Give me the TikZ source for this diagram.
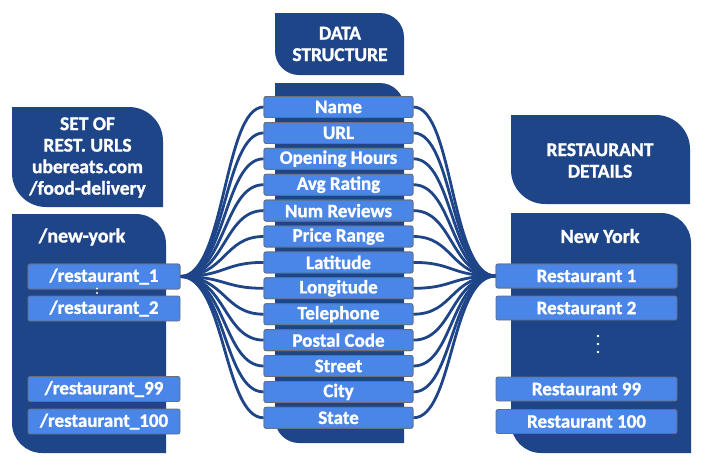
\documentclass[tikz,border=0pt]{standalone}
\usepackage{fontspec}
\setmainfont{Carlito}[BoldFeatures={FakeBold=1.2}]
\definecolor{dark}{RGB}{31,69,137}
\definecolor{light}{RGB}{74,134,232}
\definecolor{edge}{RGB}{105,110,120}
\newcommand{\leafshape}[5]{%
  \fill[dark] (#1,#2) -- ({#3-#5},#2) .. controls ({#3-0.45*#5},#2) and (#3,{#2+0.45*#5}) .. (#3,{#2+#5})
   -- (#3,#4) -- ({#1+#5},#4) .. controls ({#1+0.45*#5},#4) and (#1,{#4-0.45*#5}) .. (#1,{#4-#5}) -- cycle;}
\tikzset{
  item/.style={draw=edge, line width=0.8pt, fill=light, rounded corners=2pt, text=white,
    font=\bfseries\fontsize{19}{19}\selectfont, inner sep=0pt, anchor=center},
  lbox/.style={item, minimum width=152pt, minimum height=25pt},
  rbox/.style={item, minimum width=181pt, minimum height=24pt},
  cbox/.style={item, minimum width=149pt, minimum height=21pt},
  head/.style={text=white, font=\bfseries\fontsize{19.5}{21.5}\selectfont, align=center},
  link/.style={draw=dark, line width=2.8pt}
}
\begin{document}
\begin{tikzpicture}[x=1pt,y=-1pt]
\useasboundingbox (0,0) rectangle (707,467);
% panels
\leafshape{12}{107}{163}{207}{34}
\leafshape{12}{214}{166}{453}{30}
\leafshape{275}{13}{404}{75}{24}
\leafshape{275}{83}{404}{443}{24}
\leafshape{511}{115}{690}{204}{34}
\leafshape{511}{213}{691}{453}{30}
% headers
\node[head] (h1) at (87.5,157.5) {SET OF\\REST. URLS\\ubereats.com\\/food-delivery};
\node[head] (h2) at (340,44) {DATA\\STRUCTURE};
\node[head] (h3) at (600,160.5) {RESTAURANT\\DETAILS};
\node[head, font=\bfseries\fontsize{20}{20}\selectfont] (ny1) at (82,237) {/new-york};
\node[head, font=\bfseries\fontsize{20}{20}\selectfont] (ny2) at (600,236) {New York};
% center items
\foreach \t [count=\i from 0] in {Name,URL,Opening Hours,Avg Rating,Num Reviews,Price Range,Latitude,Longitude,Telephone,Postal Code,Street,City,State}{
  \node[cbox] (c\i) at (338.5,{107+25.9*\i}) {\t};
}
% left items
\node[lbox] (l1) at (104,276.5) {/restaurant\_1};
\node[lbox] (l2) at (104,308.5) {/restaurant\_2};
\node[lbox] (l99) at (104,389) {/restaurant\_99};
\node[lbox] (l100) at (104,421.5) {/restaurant\_100};
% right items
\node[rbox] (r1) at (586.5,276) {Restaurant 1};
\node[rbox] (r2) at (586.5,308) {Restaurant 2};
\node[rbox] (r99) at (586.5,389) {Restaurant 99};
\node[rbox] (r100) at (586.5,421.5) {Restaurant 100};
\foreach \yy [count=\k] in {336,344,352}{
  \fill[white] (598,\yy) circle (1.3pt) coordinate (d\k);
}
% connectors
\foreach \i in {0,...,12}{
  \draw[link] (l1.east) .. controls +(45,0) and +(-40,0) .. (c\i.west);
  \draw[link] (c\i.east) .. controls +(40,0) and +(-45,0) .. (r1.west);
}
% redraw boxes over connector ends
\foreach \t [count=\i from 0] in {Name,URL,Opening Hours,Avg Rating,Num Reviews,Price Range,Latitude,Longitude,Telephone,Postal Code,Street,City,State}{
  \node[cbox] at (c\i) {\t};
}
\node[lbox] at (l1) {/restaurant\_1};
\node[rbox] at (r1) {Restaurant 1};
% small dots between the first two left items
\fill[white] (97,288.5) circle (1.1pt) coordinate (ld1);
\fill[white] (97,293) circle (1.1pt) coordinate (ld2);
\end{tikzpicture}
\end{document}
